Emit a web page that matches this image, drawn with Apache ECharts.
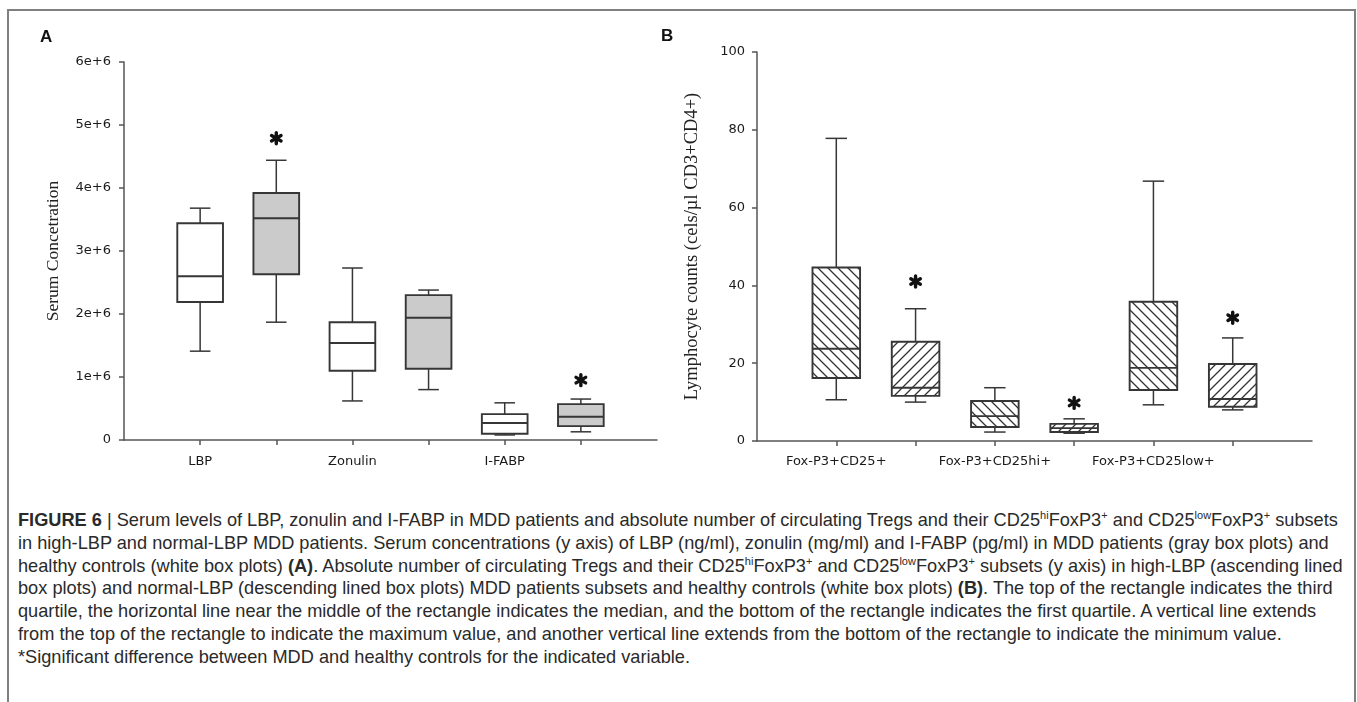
<!DOCTYPE html>
<html>
<head>
<meta charset="utf-8">
<script src="https://cdn.jsdelivr.net/npm/echarts@6/dist/echarts.min.js"></script>
<style>
  html, body { margin: 0; padding: 0; background: #fff; }
  #wrap { position: relative; width: 1357px; height: 702px; overflow: hidden; }
  #frame { position: absolute; left: 7px; top: 9px; width: 1349px; height: 720px; border: 2px solid #808080; box-sizing: border-box; }
  #chart { position: absolute; left: 0; top: 0; width: 1357px; height: 500px; }
  #caption {
    position: absolute; left: 18px; top: 509px;
    font-family: "Liberation Sans", Arial, sans-serif; font-size: 18.2px; line-height: 22.8px;
    color: #2a2a2a; white-space: nowrap;
  }
  #caption sup { font-size: 11px; line-height: 0; vertical-align: 7px; }
</style>
</head>
<body>
<div id="wrap">
  <div id="frame"></div>
  <div id="chart"></div>
  <div id="caption">
    <b>FIGURE 6</b> | Serum levels of LBP, zonulin and I-FABP in MDD patients and absolute number of circulating Tregs and their CD25<sup>hi</sup>FoxP3<sup>+</sup> and CD25<sup>low</sup>FoxP3<sup>+</sup> subsets<br>
    in high-LBP and normal-LBP MDD patients. Serum concentrations (y axis) of LBP (ng/ml), zonulin (mg/ml) and I-FABP (pg/ml) in MDD patients (gray box plots) and<br>
    healthy controls (white box plots) <b>(A)</b>. Absolute number of circulating Tregs and their CD25<sup>hi</sup>FoxP3<sup>+</sup> and CD25<sup>low</sup>FoxP3<sup>+</sup> subsets (y axis) in high-LBP (ascending lined<br>
    box plots) and normal-LBP (descending lined box plots) MDD patients subsets and healthy controls (white box plots) <b>(B)</b>. The top of the rectangle indicates the third<br>
    quartile, the horizontal line near the middle of the rectangle indicates the median, and the bottom of the rectangle indicates the first quartile. A vertical line extends<br>
    from the top of the rectangle to indicate the maximum value, and another vertical line extends from the bottom of the rectangle to indicate the minimum value.<br>
    *Significant difference between MDD and healthy controls for the indicated variable.
  </div>
</div>
<script>
// panel A: serum markers, each box = [min, q1, median, q3, max]
const catsA = ['LBP', 'Zonulin', 'I-FABP'];
const healthyA = [
  [1.41e6, 2.19e6, 2.60e6, 3.44e6, 3.68e6],
  [0.62e6, 1.10e6, 1.54e6, 1.87e6, 2.73e6],
  [0.08e6, 0.10e6, 0.27e6, 0.41e6, 0.59e6]
];
const mddA = [
  [1.87e6, 2.63e6, 3.52e6, 3.92e6, 4.44e6],
  [0.80e6, 1.13e6, 1.94e6, 2.30e6, 2.38e6],
  [0.13e6, 0.22e6, 0.37e6, 0.57e6, 0.65e6]
];
const starA = [4.79e6, null, 0.95e6];

// panel B: Treg counts
const catsB = ['Fox-P3+CD25+', 'Fox-P3+CD25hi+', 'Fox-P3+CD25low+'];
const normalB = [
  [10.6, 16.2, 23.7, 44.6, 77.8],
  [2.3, 3.6, 6.4, 10.3, 13.7],
  [9.3, 13.1, 18.8, 35.8, 66.8]
];
const highB = [
  [10.0, 11.6, 13.7, 25.5, 34.0],
  [2.0, 2.3, 3.3, 4.4, 5.7],
  [8.0, 8.8, 10.8, 19.8, 26.5]
];
const starB = [41, 9.8, 31.7];

function hatch(dir) {
  const s = 10;
  const c = document.createElement('canvas');
  c.width = s; c.height = s;
  const ctx = c.getContext('2d');
  ctx.fillStyle = '#fff';
  ctx.fillRect(0, 0, s, s);
  ctx.strokeStyle = '#333';
  ctx.lineWidth = 1.3;
  ctx.beginPath();
  for (let k = -1; k <= 1; k++) {
    if (dir === 'down') {
      ctx.moveTo(-s, -s + k * s); ctx.lineTo(2 * s, 2 * s + k * s);
    } else {
      ctx.moveTo(-s, 2 * s + k * s); ctx.lineTo(2 * s, -s + k * s);
    }
  }
  ctx.stroke();
  return { image: c, repeat: 'repeat' };
}

const dark = '#363636';
function renderBox(fill) {
  return function (params, api) {
    const x = api.value(0);
    const pMin = api.coord([x, api.value(1)]);
    const pQ1 = api.coord([x, api.value(2)]);
    const pMed = api.coord([x, api.value(3)]);
    const pQ3 = api.coord([x, api.value(4)]);
    const pMax = api.coord([x, api.value(5)]);
    const w = api.size([1, 0])[0] * 0.6;
    const cap = w * 0.45;
    const cx = pMed[0];
    const ln = { stroke: dark, lineWidth: 1.5 };
    return {
      type: 'group',
      children: [
        { type: 'line', shape: { x1: cx, y1: pMax[1], x2: cx, y2: pQ3[1] }, style: ln },
        { type: 'line', shape: { x1: cx, y1: pQ1[1], x2: cx, y2: pMin[1] }, style: ln },
        { type: 'line', shape: { x1: cx - cap / 2, y1: pMax[1], x2: cx + cap / 2, y2: pMax[1] }, style: ln },
        { type: 'line', shape: { x1: cx - cap / 2, y1: pMin[1], x2: cx + cap / 2, y2: pMin[1] }, style: ln },
        { type: 'rect', shape: { x: cx - w / 2, y: pQ3[1], width: w, height: pQ1[1] - pQ3[1] },
          style: { fill: fill, stroke: dark, lineWidth: 1.9 } },
        { type: 'line', shape: { x1: cx - w / 2, y1: pMed[1], x2: cx + w / 2, y2: pMed[1] }, style: { stroke: dark, lineWidth: 1.9 } }
      ]
    };
  };
}

// six-spoke asterisk centred on the value
function renderStar(params, api) {
  const p = api.coord([api.value(0), api.value(1)]);
  const r = 5.5;
  const spokes = [90, 30, 150].map(a => {
    const t = a * Math.PI / 180;
    return {
      type: 'line',
      shape: { x1: p[0] - r * Math.cos(t), y1: p[1] - r * Math.sin(t), x2: p[0] + r * Math.cos(t), y2: p[1] + r * Math.sin(t) },
      style: { stroke: '#111', lineWidth: 3.4, lineCap: 'round' }
    };
  });
  return { type: 'group', children: spokes };
}

// boxes sit at x = 1..6, labels under the first of each pair
const posA = (i, k) => 2 * i + 1 + k;
const dataOf = (arr, k) => arr.map((b, i) => [posA(i, k)].concat(b));
const starsOf = (arr) => arr.map((v, i) => v == null ? null : [posA(i, 1), v]).filter(Boolean);

const axisColor = '#555';
const labelFont = { fontFamily: '"DejaVu Sans", Verdana, sans-serif', fontSize: 13, color: '#1a1a1a' };

function xAxisFor(gridIndex, cats, margin) {
  return {
    type: 'value', gridIndex: gridIndex, min: 0, max: 7, interval: 1,
    splitLine: { show: false },
    axisLine: { lineStyle: { color: axisColor, width: 1.5 } },
    axisTick: { length: 5, lineStyle: { color: axisColor, width: 1.5 }, customValues: [1, 2, 3, 4, 5, 6] },
    axisLabel: Object.assign({ margin: margin, customValues: [1, 3, 5], formatter: v => cats[(v - 1) / 2] || '' }, labelFont)
  };
}

const chart = echarts.init(document.getElementById('chart'), null, { renderer: 'canvas' });
chart.setOption({
  animation: false,
  graphic: [
    { type: 'text', left: 40, top: 29, style: { text: 'A', font: 'bold 17px "Liberation Sans", Arial, sans-serif', fill: '#111' } },
    { type: 'text', left: 661, top: 28, style: { text: 'B', font: 'bold 17px "Liberation Sans", Arial, sans-serif', fill: '#111' } }
  ],
  grid: [
    { left: 124, top: 62, width: 533, height: 378 },
    { left: 757, top: 52, width: 555, height: 389 }
  ],
  xAxis: [xAxisFor(0, catsA, 15), xAxisFor(1, catsB, 14)],
  yAxis: [
    {
      type: 'value', gridIndex: 0, min: 0, max: 6e6, interval: 1e6,
      name: 'Serum Concetration', nameLocation: 'middle', nameGap: 62, nameRotate: 90,
      nameTextStyle: { fontFamily: '"Liberation Serif", "Times New Roman", serif', fontSize: 17.5, color: '#222' },
      splitLine: { show: false },
      axisLine: { show: true, lineStyle: { color: axisColor, width: 1.5 } },
      axisTick: { show: true, length: 5, lineStyle: { color: axisColor, width: 1.5 } },
      axisLabel: Object.assign({ margin: 13, formatter: v => v === 0 ? '0' : (v / 1e6) + 'e+6' }, labelFont)
    },
    {
      type: 'value', gridIndex: 1, min: 0, max: 100, interval: 20,
      name: 'Lymphocyte counts (cels/\u00b5l CD3+CD4+)', nameLocation: 'middle', nameGap: 55, nameRotate: 90,
      nameTextStyle: { fontFamily: '"Liberation Serif", "Times New Roman", serif', fontSize: 18.5, color: '#222' },
      splitLine: { show: false },
      axisLine: { show: true, lineStyle: { color: axisColor, width: 1.5 } },
      axisTick: { show: true, length: 5, lineStyle: { color: axisColor, width: 1.5 } },
      axisLabel: Object.assign({ margin: 12 }, labelFont)
    }
  ],
  series: [
    { type: 'custom', xAxisIndex: 0, yAxisIndex: 0, renderItem: renderBox('#fff'),
      encode: { x: 0, y: [1, 2, 3, 4, 5] }, data: dataOf(healthyA, 0) },
    { type: 'custom', xAxisIndex: 0, yAxisIndex: 0, renderItem: renderBox('#cbcbcb'),
      encode: { x: 0, y: [1, 2, 3, 4, 5] }, data: dataOf(mddA, 1) },
    { type: 'custom', xAxisIndex: 0, yAxisIndex: 0, renderItem: renderStar,
      encode: { x: 0, y: 1 }, data: starsOf(starA) },
    { type: 'custom', xAxisIndex: 1, yAxisIndex: 1, renderItem: renderBox(hatch('down')),
      encode: { x: 0, y: [1, 2, 3, 4, 5] }, data: dataOf(normalB, 0) },
    { type: 'custom', xAxisIndex: 1, yAxisIndex: 1, renderItem: renderBox(hatch('up')),
      encode: { x: 0, y: [1, 2, 3, 4, 5] }, data: dataOf(highB, 1) },
    { type: 'custom', xAxisIndex: 1, yAxisIndex: 1, renderItem: renderStar,
      encode: { x: 0, y: 1 }, data: starsOf(starB) }
  ]
});
</script>
</body>
</html>
